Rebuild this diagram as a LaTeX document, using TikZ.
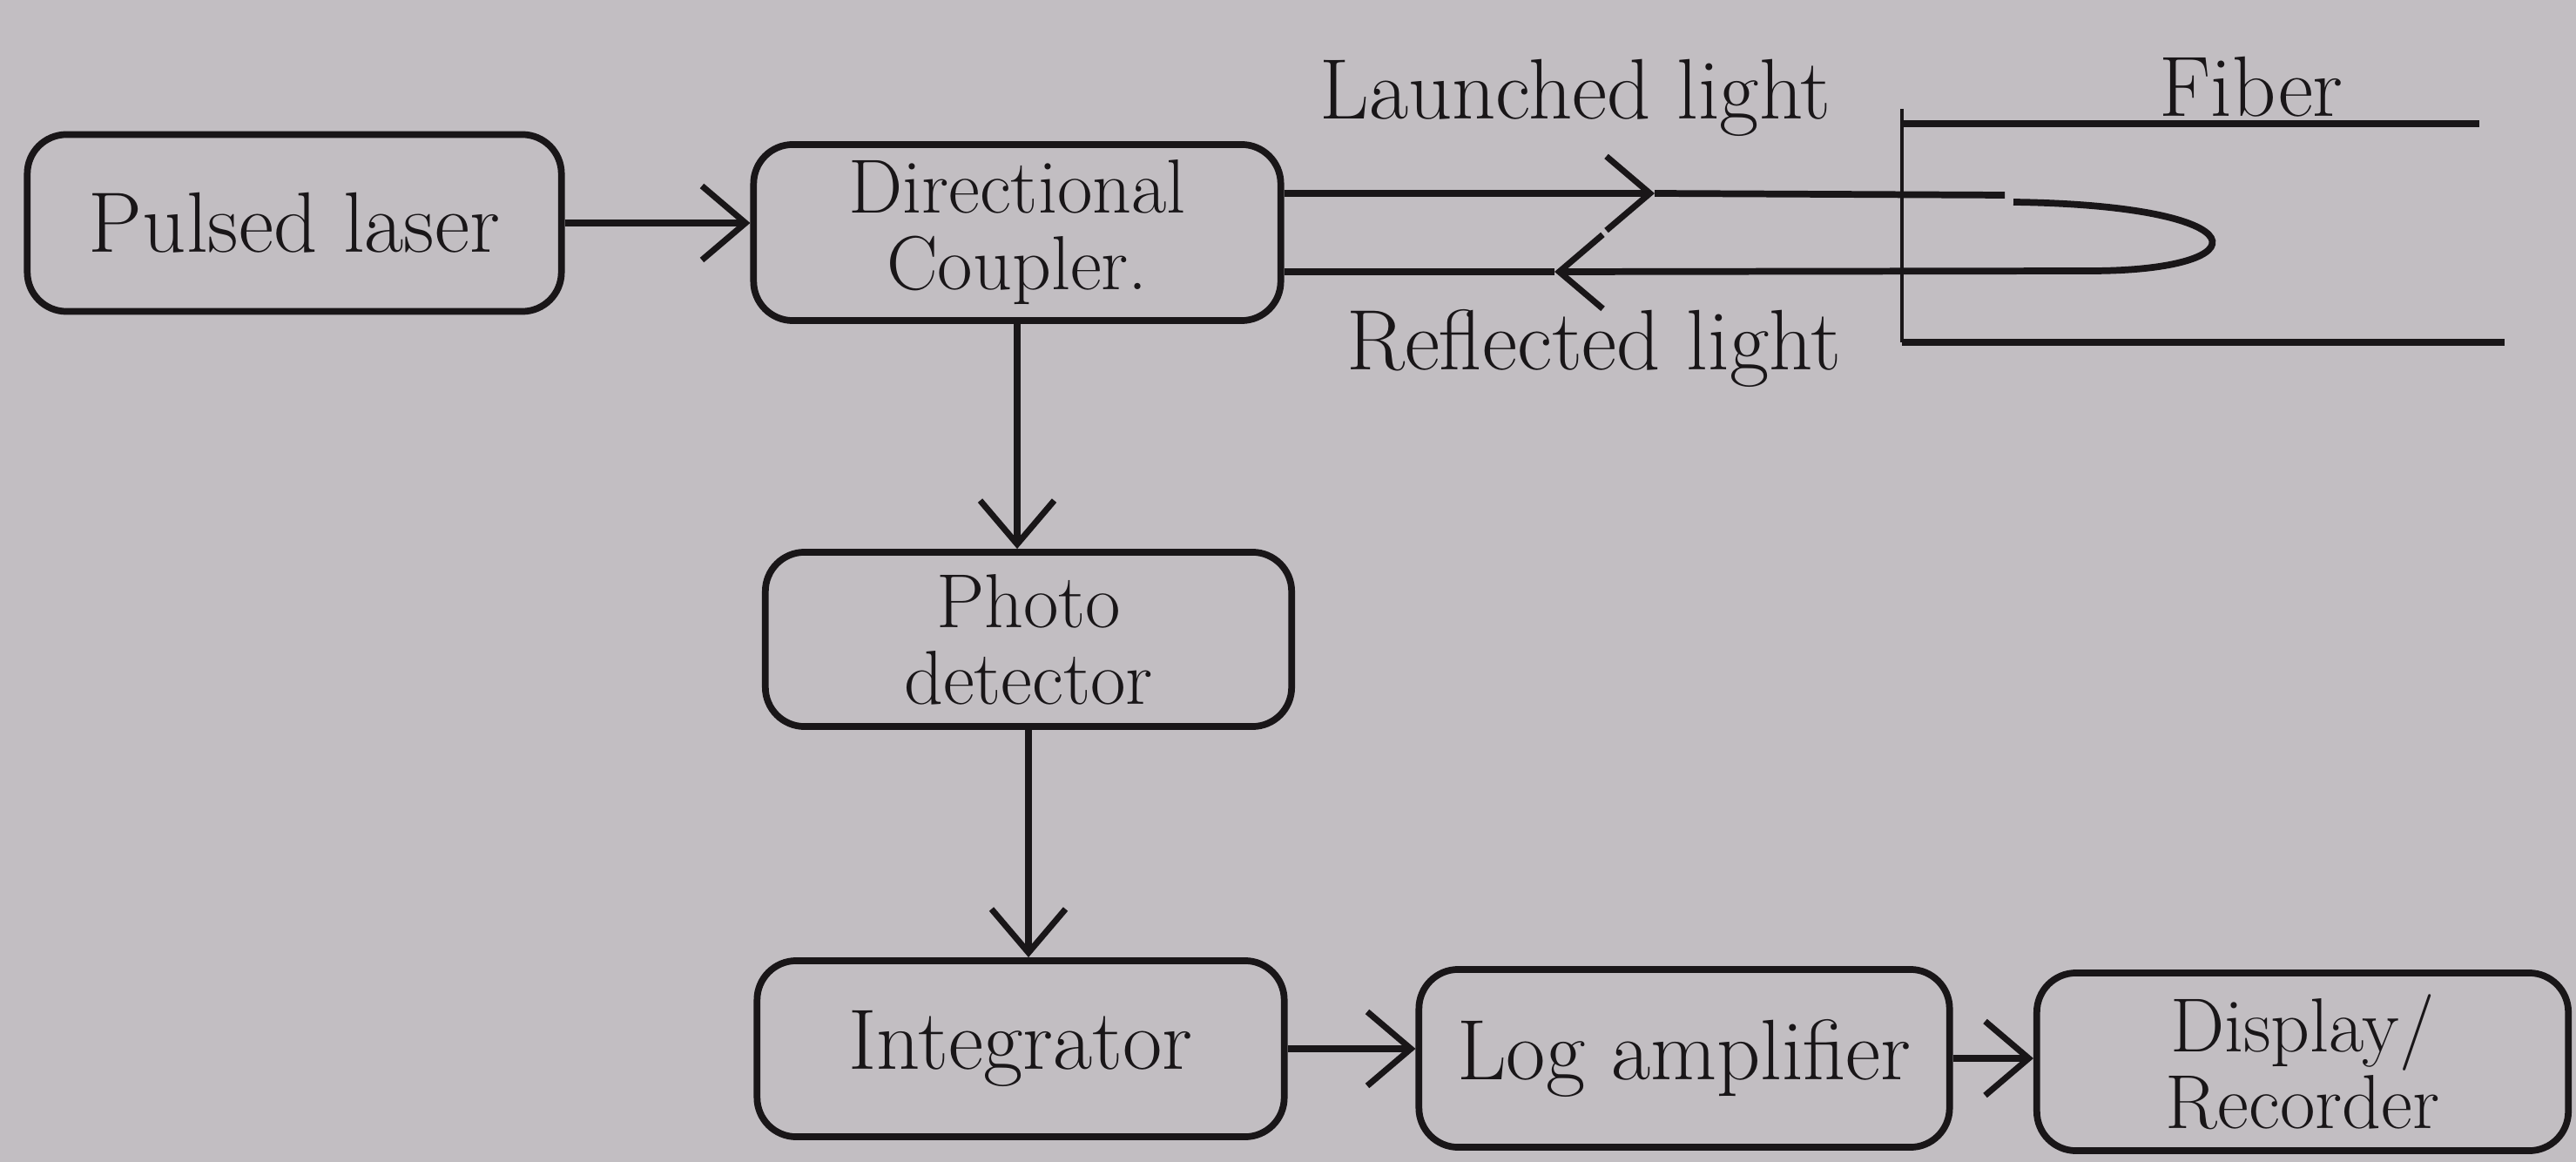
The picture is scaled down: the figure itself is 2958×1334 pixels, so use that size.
\documentclass[tikz,border=0pt]{standalone}
\usetikzlibrary{arrows.meta}
\definecolor{paper}{RGB}{194,190,194}
\definecolor{ink}{RGB}{25,22,24}
\begin{document}
\begin{tikzpicture}[x=0.01cm,y=-0.01cm,
  box/.style={draw=ink,line width=2.2pt,rounded corners=0.45cm,inner sep=0pt,
    minimum width=6.05cm,minimum height=2.02cm,font=\fontsize{28}{30}\selectfont,text=ink,align=center},
  twoline/.style={font=\fontsize{25}{25}\selectfont},
  lbl/.style={font=\fontsize{28}{30}\selectfont,text=ink,inner sep=0pt},
  wire/.style={draw=ink,line width=2.2pt},
  arr/.style={wire,-{Straight Barb[length=0.5cm,width=0.85cm,line width=2pt]}}]
\useasboundingbox (0,0) rectangle (2958,1334);
\fill[paper] (0,0) rectangle (2958,1334);
% boxes
\node[box,minimum width=6.13cm,minimum height=2.03cm] (laser) at (338,256) {Pulsed laser};
\node[box,twoline] (coupler) at (1168,267) {Directional\\Coupler.};
\node[box,twoline,minimum width=6.04cm,minimum height=2.0cm] (photo) at (1181,734) {Photo\\detector};
\node[box] (integ) at (1172,1204) {Integrator};
\node[box,minimum width=6.09cm,minimum height=2.04cm] (logamp) at (1934,1215) {Log amplifier};
\node[box,twoline,minimum width=6.1cm,minimum height=2.04cm] (display) at (2644,1219) {Display/\\Recorder};
% connectors
\draw[arr] (laser.east) -- (laser.east -| coupler.west);
\draw[arr] (coupler.south) -- (coupler.south |- photo.north);
\draw[arr] (photo.south) -- (photo.south |- integ.north);
\draw[arr] (integ.east) -- (integ.east -| logamp.west);
\draw[arr] (logamp.east) -- (logamp.east -| display.west);
% fiber
\coordinate (lstart) at (1471,222);
\coordinate (ltip) at (1900,222);
\coordinate (lend) at (2302,224);
\coordinate (cstart) at (2312,232);
\coordinate (cend) at (2400,311);
\coordinate (rtip) at (1785,312);
\coordinate (rstart) at (1471,312);
\draw[arr] (coupler.east |- lstart) -- (ltip);
\draw[wire] (ltip) -- (lend);
\draw[wire] (cstart) .. controls (2600,236) and (2600,311) .. (cend);
\draw[arr] (cend) -- (rtip);
\draw[wire] (rtip) -- (coupler.east |- rstart);
\coordinate (ftop) at (2184,125);
\coordinate (fbot) at (2184,393);
\coordinate (fbotend) at (2876,393);
\coordinate (ftopl) at (2184,142);
\coordinate (ftopend) at (2847,142);
\draw[draw=ink,line width=1.3pt] (ftop) -- (fbot);
\draw[wire] (fbot) -- (fbotend);
\draw[wire] (ftopl) -- (ftopend);
% labels
\node[lbl] (launched) at (1809,112) {Launched light};
\node[lbl] (reflected) at (1830,400) {Reflected light};
\node[lbl] (fiber) at (2585,100) {Fiber};
\end{tikzpicture}
\end{document}
